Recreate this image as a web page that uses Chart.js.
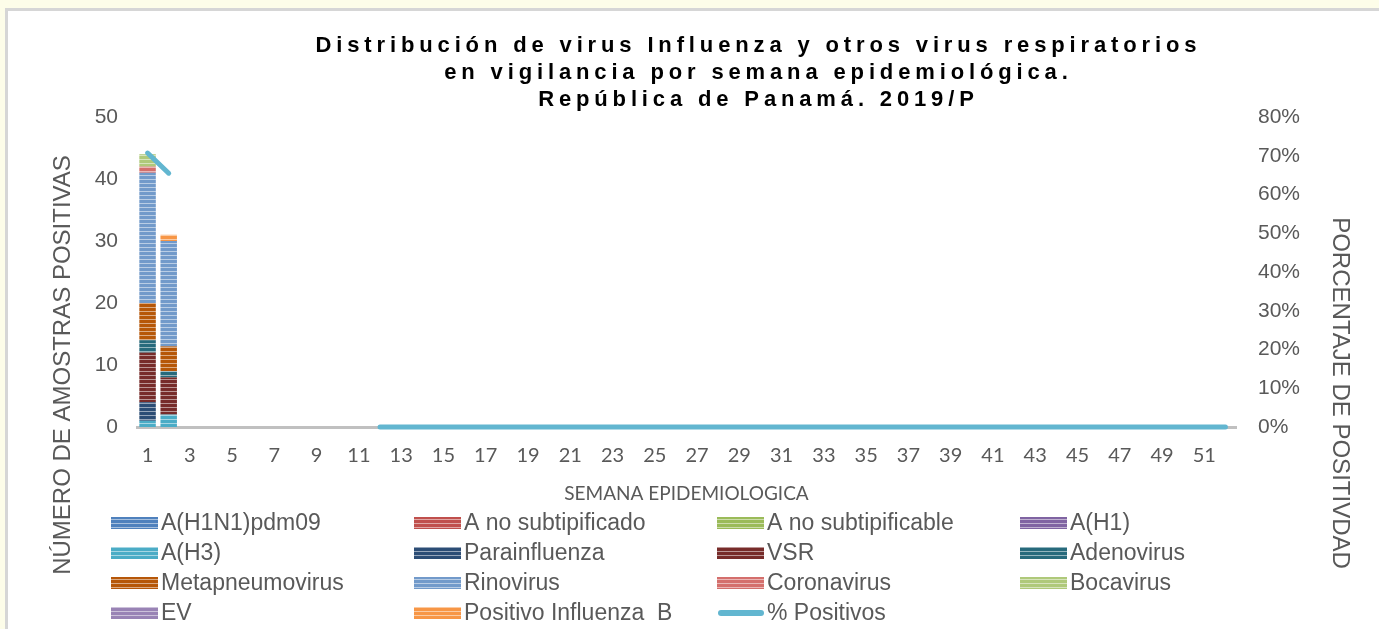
<!DOCTYPE html>
<html>
<head>
<meta charset="utf-8">
<script src="https://cdn.jsdelivr.net/npm/chart.js@4.4.0/dist/chart.umd.min.js"></script>
<style>
  body { margin: 0; background: #fdfde9; width: 1379px; height: 629px; overflow: hidden; position: relative; }
  #marco { position: absolute; left: 5px; top: 8px; width: 1400px; height: 640px; background: #fff; border-left: 3px solid #d6d6d6; border-top: 3px solid #d6d6d6; }
  #grafico { position: absolute; left: 0; top: 0; }
</style>
</head>
<body>
<div id="marco"></div>
<canvas id="grafico" width="1379" height="629"></canvas>
<script>
// semanas epidemiologicas 1..52
const semanas = Array.from({length: 52}, (_, i) => String(i + 1))

// muestras positivas por semana (solo semanas 1 y 2 tienen datos)
const aH1N1pdm09 = [0, 0]
const aNoSubtipificado = [0, 0]
const aNoSubtipificable = [0, 0]
const aH1 = [0, 0]
const aH3 = [1, 2]
const parainfluenza = [3, 0]
const vsr = [8, 6]
const adenovirus = [2, 1]
const metapneumovirus = [6, 4]
const rinovirus = [21, 17]
const coronavirus = [1, 0]
const bocavirus = [2, 0]
const ev = [0, 0]
const influenzaB = [0, 1]

// % positivos (semanas 3 a 11 sin dato)
const positivos = [70.7, 65.5, null, null, null, null, null, null, null, null, null,
  0, 0, 0, 0, 0, 0, 0, 0, 0, 0, 0, 0, 0, 0, 0, 0, 0, 0, 0, 0,
  0, 0, 0, 0, 0, 0, 0, 0, 0, 0, 0, 0, 0, 0, 0, 0, 0, 0, 0, 0, 0]

const ticksIzq = [0, 10, 20, 30, 40, 50]
const ticksDer = [0, 10, 20, 30, 40, 50, 60, 70, 80]

const titulo = [
  "Distribución de virus Influenza y otros virus respiratorios",
  "en vigilancia por semana epidemiológica.",
  "República de Panamá. 2019/P"
]

const series = [
  ["A(H1N1)pdm09", aH1N1pdm09, "#4f81bd"],
  ["A no subtipificado", aNoSubtipificado, "#c0504d"],
  ["A no subtipificable", aNoSubtipificable, "#9bbb59"],
  ["A(H1)", aH1, "#8064a2"],
  ["A(H3)", aH3, "#4bacc6"],
  ["Parainfluenza", parainfluenza, "#2c4d75"],
  ["VSR", vsr, "#772c2a"],
  ["Adenovirus", adenovirus, "#276a7c"],
  ["Metapneumovirus", metapneumovirus, "#b65708"],
  ["Rinovirus", rinovirus, "#729aca"],
  ["Coronavirus", coronavirus, "#d46f6c"],
  ["Bocavirus", bocavirus, "#afc97a"],
  ["EV", ev, "#9983b5"],
  ["Positivo Influenza  B", influenzaB, "#f79646"]
]
const colorLinea = "#62b6d0"
const gris = "#595959"

// rayas horizontales como en excel
function rayas(color) {
  const c = document.createElement("canvas")
  c.width = 4
  c.height = 4
  const g = c.getContext("2d")
  g.fillStyle = color
  g.fillRect(0, 0, 4, 4)
  g.fillStyle = "rgba(255,255,255,0.5)"
  g.fillRect(0, 3, 4, 1)
  return g.createPattern(c, "repeat")
}

const datasets = series.map(([nombre, datos, color]) => ({
  type: "bar",
  label: nombre,
  data: datos,
  backgroundColor: rayas(color),
  borderWidth: 0,
  barPercentage: 0.78,
  categoryPercentage: 1,
  yAxisID: "y",
  order: 1
}))
datasets.push({
  type: "line",
  label: "% Positivos",
  data: positivos,
  borderColor: colorLinea,
  borderWidth: 5,
  borderCapStyle: "round",
  pointRadius: 0,
  spanGaps: false,
  clip: false,
  yAxisID: "y1",
  order: 0
})

const extras = {
  id: "extras",
  afterDraw(chart) {
    const ctx = chart.ctx
    ctx.save()
    // titulo
    ctx.fillStyle = "#000"
    ctx.font = "bold 22px 'Liberation Sans Narrow', 'Liberation Sans', Arial"
    ctx.textAlign = "center"
    ctx.textBaseline = "middle"
    const w = ctx.measureText(titulo[0]).width
    const esp = (881 - w) / (titulo[0].length - 1)
    ctx.letterSpacing = esp.toFixed(2) + "px"
    titulo.forEach((t, i) => ctx.fillText(t, 756 + esp / 2, 46 + i * 27))
    ctx.letterSpacing = "0px"

    // titulos de ejes
    ctx.fillStyle = gris
    ctx.font = "24px 'Liberation Sans', Arial"
    ctx.save()
    ctx.translate(63, 365)
    ctx.rotate(-Math.PI / 2)
    ctx.fillText("NÚMERO DE AMOSTRAS POSITIVAS", 0, 0)
    ctx.restore()
    ctx.save()
    ctx.translate(1340, 393)
    ctx.rotate(Math.PI / 2)
    ctx.fillText("PORCENTAJE DE POSITIVDAD", 0, 0)
    ctx.restore()

    // leyenda en 4 columnas
    ctx.textAlign = "left"
    ctx.font = "23px 'Liberation Sans Narrow', 'Liberation Sans', Arial"
    chart.data.datasets.forEach((ds, i) => {
      const x = 111 + (i % 4) * 303
      const y = 523 + Math.floor(i / 4) * 30
      if (ds.type === "line") {
        ctx.strokeStyle = ds.borderColor
        ctx.lineWidth = 6
        ctx.lineCap = "round"
        ctx.beginPath()
        ctx.moveTo(x + 4, y)
        ctx.lineTo(x + 44, y)
        ctx.stroke()
      } else {
        ctx.fillStyle = ds.backgroundColor
        ctx.fillRect(x, y - 6, 47, 12)
      }
      ctx.fillStyle = gris
      ctx.fillText(ds.label, x + 50, y + 1)
    })
    ctx.restore()
  }
}

new Chart(document.getElementById("grafico"), {
  data: { labels: semanas, datasets: datasets },
  plugins: [extras],
  options: {
    responsive: false,
    animation: false,
    devicePixelRatio: 1,
    layout: { padding: { top: 117, bottom: 124, left: 0, right: 0 } },
    plugins: { legend: { display: false }, tooltip: { enabled: false } },
    scales: {
      x: {
        stacked: true,
        grid: { display: true, drawOnChartArea: false, drawTicks: false, color: "rgba(0,0,0,0)" },
        border: { display: true, color: "#c0c0c0", width: 3 },
        ticks: {
          autoSkip: false,
          maxRotation: 0,
          padding: 17,
          color: gris,
          font: { family: "Lato", size: 20 },
          callback: (v, i) => (i % 2 === 0 ? semanas[i] : "")
        },
        title: { display: true, text: "SEMANA EPIDEMIOLOGICA", color: gris, font: { family: "Lato", size: 19 }, padding: 0 },
        afterFit: s => { s.height = 78 }
      },
      y: {
        stacked: true,
        position: "left",
        min: ticksIzq[0],
        max: ticksIzq[ticksIzq.length - 1],
        afterBuildTicks: s => { s.ticks = ticksIzq.map(v => ({ value: v })) },
        grid: { display: false, drawTicks: false },
        border: { display: false },
        ticks: { padding: 19, color: gris, font: { family: "'Liberation Sans'", size: 21 } },
        afterFit: s => { s.width = 137 }
      },
      y1: {
        position: "right",
        min: ticksDer[0],
        max: ticksDer[ticksDer.length - 1],
        afterBuildTicks: s => { s.ticks = ticksDer.map(v => ({ value: v })) },
        grid: { display: false, drawTicks: false },
        border: { display: false },
        ticks: { padding: 22, color: gris, font: { family: "'Liberation Sans'", size: 21 }, callback: v => v + "%" },
        afterFit: s => { s.width = 143 }
      }
    }
  }
})
</script>
</body>
</html>
